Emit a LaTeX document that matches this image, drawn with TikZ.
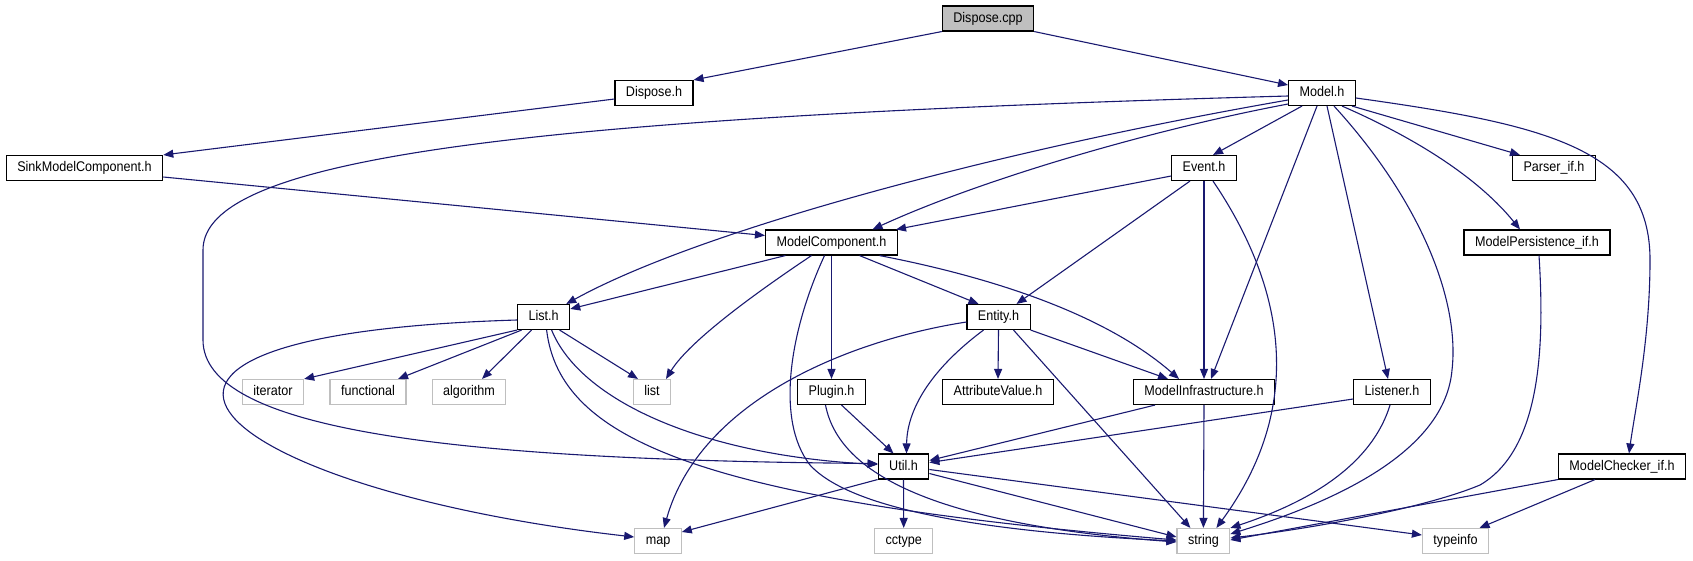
\documentclass[tikz,border=0pt]{standalone}
\usepackage{fontspec}
\setmainfont{Liberation Sans}
\usetikzlibrary{arrows.meta}
\definecolor{Edge}{RGB}{25,25,112}
\definecolor{Frame}{RGB}{191,191,191}
\newcommand{\nm}[1]{\scalebox{0.9}[1]{#1}}

\begin{document}
\begin{tikzpicture}[x=1pt,y=-1pt,
 b/.style={draw=black,line width=1.1pt,fill=white,minimum height=25pt,inner xsep=11pt,inner ysep=0pt,text height=10pt,text depth=3pt,font=\fontsize{14}{16}\selectfont},
 g/.style={b,draw=Frame},
 s/.style={b,fill=Frame},
 a/.style={-{Triangle[length=10pt,width=8pt]},line width=1.1pt,Edge}]
\useasboundingbox (0,0) rectangle (1693,560);
% rows
\node[s] (cpp) at (988,18.5) {\nm{Dispose.cpp}};
\node[b] (disp) at (654,93) {\nm{Dispose.h}};
\node[b] (model) at (1322,93) {\nm{Model.h}};
\node[b] (sink) at (84.5,168) {\nm{SinkModelComponent.h}};
\node[b] (event) at (1204,168) {\nm{Event.h}};
\node[b] (parser) at (1554,168) {\nm{Parser\_if.h}};
\node[b] (mcomp) at (831.5,242.5) {\nm{ModelComponent.h}};
\node[b] (mpers) at (1537,242.5) {\nm{ModelPersistence\_if.h}};
\node[b] (listh) at (543.6,317) {\nm{List.h}};
\node[b] (entity) at (998.5,317) {\nm{Entity.h}};
\node[g] (iter) at (273,392) {\nm{iterator}};
\node[g] (func) at (368,392) {\nm{functional}};
\node[g] (algo) at (469,392) {\nm{algorithm}};
\node[g] (lst) at (652,392) {\nm{list}};
\node[b] (plugin) at (831.5,392) {\nm{Plugin.h}};
\node[b] (attr) at (998,392) {\nm{AttributeValue.h}};
\node[b] (minfra) at (1204,392) {\nm{ModelInfrastructure.h}};
\node[b] (listen) at (1392,392) {\nm{Listener.h}};
\node[b] (util) at (903.5,466.5) {\nm{Util.h}};
\node[b] (mcheck) at (1622,466.5) {\nm{ModelChecker\_if.h}};
\node[g] (smap) at (658,541) {\nm{map}};
\node[g] (cctype) at (903.7,541) {\nm{cctype}};
\node[g] (str) at (1203.4,541) {\nm{string}};
\node[g] (tinfo) at (1455.5,541) {\nm{typeinfo}};
% top
\draw[a] (cpp.south west) -- (disp.north east);
\draw[a] (cpp.south east) -- ([yshift=8]model.west);
\draw[a] ([yshift=-6]disp.west) -- (sink.north east);
\draw[a] ([yshift=-9]sink.east) -- ([yshift=7]mcomp.west);
% Model.h
\draw[a] ([yshift=-3]model.west) .. controls (500,118) and (203,160) .. (203,250) -- (203,340) .. controls (203,430) and (450,460) .. ([yshift=3]util.west);
\draw[a] ([yshift=-7]model.west) .. controls (1000,150) and (700,230) .. ([xshift=-4]listh.north east);
\draw[a] ([yshift=-11]model.west) .. controls (1150,130) and (980,180) .. ([xshift=41]mcomp.north);
\draw[a] ([xshift=-20]model.south) -- ([xshift=9]event.north);
\draw[a] ([xshift=-5]model.south) -- ([xshift=7]minfra.north);
\draw[a] ([xshift=5]model.south) -- ([xshift=-4]listen.north);
\draw[a] ([xshift=12]model.south) .. controls (1420,200) and (1460,300) .. (1452,370) .. controls (1445,450) and (1340,500) .. ([yshift=7]str.east);
\draw[a] ([xshift=20]model.south) .. controls (1420,140) and (1480,180) .. ([xshift=-17]mpers.north);
\draw[a] ([xshift=30]model.south) -- ([xshift=-34]parser.north);
\draw[a] ([yshift=-5]model.east) .. controls (1550,125) and (1650,150) .. (1650,260) .. controls (1650,340) and (1635,410) .. ([xshift=7]mcheck.north);
% Event.h
\draw[a] ([yshift=-8]event.west) -- ([xshift=-2]mcomp.north east);
\draw[a] ([xshift=-14]event.south) -- ([xshift=18]entity.north);
\draw[a] (event.south) -- (minfra.north);
\draw[a] ([xshift=9]event.south) .. controls (1280,280) and (1310,400) .. ([xshift=13]str.north);
% ModelComponent.h
\draw[a] ([xshift=-46]mcomp.south) -- ([yshift=-5]listh.north east);
\draw[a] ([xshift=-20]mcomp.south) .. controls (760,290) and (690,340) .. ([xshift=14]lst.north);
\draw[a] ([xshift=-7]mcomp.south) .. controls (790,330) and (775,420) .. (810,465) .. controls (860,520) and (1050,535) .. (str.west);
\draw[a] (mcomp.south) -- (plugin.north);
\draw[a] ([xshift=28]mcomp.south) -- ([xshift=-20]entity.north);
\draw[a] ([xshift=48]mcomp.south) .. controls (980,275) and (1100,310) .. ([xshift=-25]minfra.north);
% List.h
\draw[a] ([yshift=-3]listh.west) .. controls (20,335) and (220,490) .. ([yshift=4]smap.west);
\draw[a] (listh.south west) -- (iter.north east);
\draw[a] ([xshift=-22]listh.south) -- ([xshift=30]func.north);
\draw[a] ([xshift=-12]listh.south) -- ([xshift=13]algo.north);
\draw[a] ([xshift=16]listh.south) -- ([xshift=-14]lst.north);
\draw[a] ([xshift=8]listh.south) .. controls (580,400) and (700,455) .. ([yshift=2]util.west);
\draw[a] ([xshift=3]listh.south) .. controls (560,440) and (700,500) .. ([yshift=1]str.west);
% Entity.h
\draw[a] ([yshift=-5]entity.west) .. controls (850,340) and (700,400) .. ([xshift=6]smap.north);
\draw[a] ([xshift=-15]entity.south) .. controls (930,370) and (907,410) .. ([xshift=3]util.north);
\draw[a] (entity.south) -- (attr.north);
\draw[a] (entity.south east) -- ([xshift=-36]minfra.north);
\draw[a] ([xshift=15]entity.south) -- ([xshift=-13]str.north);
% Plugin.h, ModelInfrastructure.h, Listener.h
\draw[a] ([xshift=10]plugin.south) -- ([xshift=-10]util.north);
\draw[a] ([xshift=-6]plugin.south) .. controls (840,480) and (950,525) .. ([yshift=-1]str.west);
\draw[a] ([xshift=-49]minfra.south) -- ([yshift=6]util.east);
\draw[a] (minfra.south) -- (str.north);
\draw[a] ([yshift=-7]listen.west) -- ([yshift=4]util.east);
\draw[a] ([xshift=-2]listen.south) .. controls (1370,470) and (1300,505) .. (str.north east);
% Util.h
\draw[a] (util.south west) -- ([yshift=9]smap.east);
\draw[a] (util.south) -- (cctype.north);
\draw[a] ([yshift=-7]util.east) -- ([yshift=4]str.west);
\draw[a] ([yshift=-3]util.east) -- ([yshift=6]tinfo.west);
% right side
\draw[a] ([xshift=2]mpers.south) .. controls (1545,350) and (1540,450) .. (1480,485) .. controls (1420,510) and (1300,530) .. ([yshift=3]str.east);
\draw[a] (mcheck.south west) -- ([yshift=1]str.east);
\draw[a] ([xshift=-27]mcheck.south) -- ([xshift=24]tinfo.north);
\end{tikzpicture}
\end{document}
